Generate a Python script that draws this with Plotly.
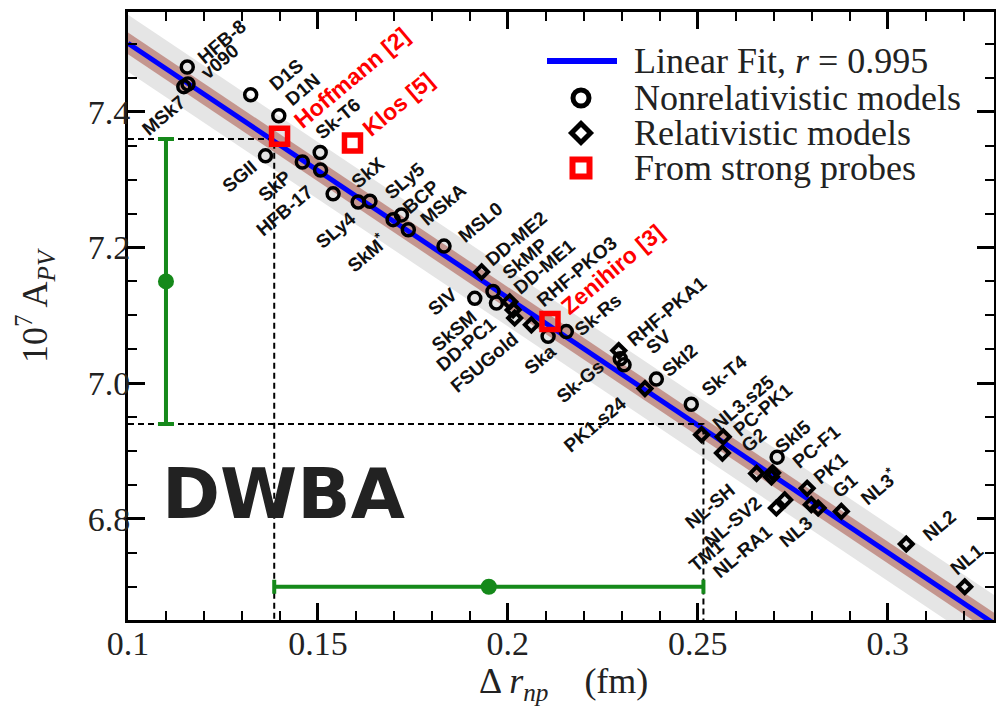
import plotly.graph_objects as go

# ---------------- data ----------------
nonrel_names = ["HFB-8", "v090", "MSk7", "D1S", "D1N", "SGII", "SkP", "Sk-T6", "HFB-17",
                "SkX", "SLy4", "SLy5", "SkM*", "BCP", "MSkA", "MSL0", "SIV", "SkMP",
                "SkSM", "Ska", "Sk-Rs", "Sk-Gs", "SV", "SkI2", "Sk-T4", "SkI5"]
nonrel_drnp = [0.1156, 0.1158, 0.1147, 0.1323, 0.1397, 0.1362, 0.1459, 0.1506, 0.1507,
               0.1540, 0.1606, 0.1637, 0.1698, 0.1720, 0.1738, 0.1832, 0.1913, 0.1961,
               0.1970, 0.2106, 0.2154, 0.2296, 0.2306, 0.2391, 0.2483, 0.2709]
nonrel_apv = [7.466, 7.441, 7.437, 7.425, 7.394, 7.335, 7.326, 7.340, 7.314,
              7.279, 7.267, 7.268, 7.241, 7.248, 7.226, 7.202, 7.125, 7.135,
              7.118, 7.069, 7.076, 7.036, 7.027, 7.006, 6.969, 6.891]

rel_names = ["DD-ME2", "DD-ME1", "DD-PC1", "RHF-PKO3", "FSUGold", "RHF-PKA1", "PK1.s24",
             "NL3.s25", "PC-PK1", "G2", "NL-SH", "NL-SV2", "PC-F1", "TM1", "NL-RA1",
             "PK1", "NL3", "G1", "NL3*", "NL2", "NL1"]
rel_drnp = [0.1931, 0.2005, 0.2014, 0.2018, 0.2062, 0.2292, 0.2361,
            0.2510, 0.2567, 0.2565, 0.2655, 0.2694, 0.2697, 0.2707, 0.2729,
            0.2788, 0.2799, 0.2817, 0.2878, 0.3049, 0.3203]
rel_apv = [7.164, 7.120, 7.108, 7.096, 7.086, 7.048, 6.992,
           6.924, 6.921, 6.897, 6.867, 6.862, 6.868, 6.816, 6.828,
           6.845, 6.821, 6.816, 6.811, 6.763, 6.700]

probe_names = ["Hoffmann [2]", "Klos [5]", "Zenihiro [3]"]
probe_drnp = [0.1399, 0.1591, 0.2111]
probe_apv = [7.364, 7.354, 7.091]

fit_intercept = 7.876
fit_slope = -3.751
fit_r = 0.995
gray_band = 0.042
brown_band = 0.016

apv_meas = 7.15
apv_err = 0.21
apv_meas_x = 0.110
rnp_meas = 0.195
rnp_err = 0.0565
rnp_meas_y = 6.70

x_ticks = [0.1, 0.15, 0.2, 0.25, 0.3]
y_ticks = [6.8, 7.0, 7.2, 7.4]
x_range = [0.1, 0.328]
y_range = [6.651, 7.547]

# ---------------- styling / layout (not data) ----------------
W, H = 996, 711
L, R, T, B = 128, 994, 12, 620

def pxx(px):
    return (px - L) / (R - L)

def pxy(py):
    return (B - py) / (B - T)

# label offsets in pixels (right, up) from each point
label_offsets = {
    "HFB-8": (35, 25), "v090": (32, 22), "MSk7": (-20, -29), "D1S": (36, 20),
    "D1N": (24, 26), "Hoffmann [2]": (72, 58), "Klos [5]": (46, 39), "Sk-T6": (18, 34),
    "SGII": (-26, -21), "SkP": (-27, -24), "HFB-17": (-36, -40), "SkX": (35, 21),
    "SLy5": (35, 21), "BCP": (20, 18), "MSkA": (35, 25), "SLy4": (-23, -28),
    "SkM*": (-27, -33), "MSL0": (36, 24), "DD-ME2": (35, 33), "SkMP": (32, 33),
    "DD-ME1": (35, 35), "RHF-PKO3": (62, 47), "Zenihiro [3]": (63, 52), "Sk-Rs": (32, 17),
    "RHF-PKA1": (48, 39), "SV": (35, 23), "SkI2": (23, 19), "SIV": (-32, -3),
    "SkSM": (-42, -27), "DD-PC1": (-47, -35), "FSUGold": (-47, -38), "Ska": (-8, -23),
    "Sk-Gs": (-40, -23), "PK1.s24": (-50, -36), "Sk-T4": (33, 29), "NL3.s25": (42, 32),
    "PC-PK1": (40, 27), "G2": (31, 13), "SkI5": (16, 21), "PC-F1": (44, 26),
    "PK1": (23, 20), "G1": (27, 23), "NL3*": (38, 25), "NL3": (-15, -27),
    "NL2": (33, 19), "NL1": (2, 27), "NL-SH": (-47, -33), "NL-SV2": (-38, -45),
    "TM1": (-70, -47), "NL-RA1": (-42, -52),
}

SERIF = "Liberation Serif, Times New Roman, serif"
SANS = "Liberation Sans, Arial, sans-serif"
GREEN = "#15891a"

fig = go.Figure()

xe = list(x_range)
fit_y = [fit_intercept + fit_slope * v for v in xe]

# gray band
fig.add_trace(go.Scatter(
    x=xe + xe[::-1],
    y=[v + gray_band for v in fit_y] + [v - gray_band for v in fit_y[::-1]],
    fill="toself", fillcolor="#e5e5e5", line=dict(width=0), mode="lines",
    hoverinfo="skip", showlegend=False))
# brown band
fig.add_trace(go.Scatter(
    x=xe + xe[::-1],
    y=[v + brown_band for v in fit_y] + [v - brown_band for v in fit_y[::-1]],
    fill="toself", fillcolor="#c4968f", line=dict(width=0), mode="lines",
    hoverinfo="skip", showlegend=False))
# fit line
fig.add_trace(go.Scatter(x=xe, y=fit_y, mode="lines",
                         line=dict(color="#0000ff", width=5), showlegend=False))

# dashed guide lines
top_a = apv_meas + apv_err
bot_a = apv_meas - apv_err
lo_r = rnp_meas - rnp_err
hi_r = rnp_meas + rnp_err
dash = dict(color="black", width=2, dash="6px,4px")
fig.add_trace(go.Scatter(x=[x_range[0], lo_r, lo_r], y=[top_a, top_a, y_range[0]],
                         mode="lines", line=dash, showlegend=False))
fig.add_trace(go.Scatter(x=[x_range[0], hi_r, hi_r], y=[bot_a, bot_a, y_range[0]],
                         mode="lines", line=dash, showlegend=False))

# green measurement bars
fig.add_trace(go.Scatter(
    x=[apv_meas_x], y=[apv_meas], mode="markers",
    marker=dict(color=GREEN, size=16),
    error_y=dict(type="constant", value=apv_err, color=GREEN, thickness=4, width=8),
    showlegend=False))
fig.add_trace(go.Scatter(
    x=[rnp_meas], y=[rnp_meas_y], mode="markers",
    marker=dict(color=GREEN, size=16),
    error_x=dict(type="constant", value=rnp_err, color=GREEN, thickness=4, width=7),
    showlegend=False))

# model points
fig.add_trace(go.Scatter(
    x=nonrel_drnp, y=nonrel_apv, mode="markers", name="Nonrelativistic models",
    marker=dict(symbol="circle-open", size=12, color="black", line=dict(width=3.5)),
    showlegend=False))
fig.add_trace(go.Scatter(
    x=rel_drnp, y=rel_apv, mode="markers", name="Relativistic models",
    marker=dict(symbol="diamond-open", size=10, color="black", line=dict(width=4)),
    showlegend=False))
fig.add_trace(go.Scatter(
    x=probe_drnp, y=probe_apv, mode="markers", name="From strong probes",
    marker=dict(symbol="square-open", size=16, color="#ff0000", line=dict(width=5.5)),
    showlegend=False))

annotations = []

def disp(name):
    return name.replace("*", "<sup>*</sup>")

for names, xs, ys, color, size in [
        (nonrel_names, nonrel_drnp, nonrel_apv, "#111111", 19),
        (rel_names, rel_drnp, rel_apv, "#111111", 19),
        (probe_names, probe_drnp, probe_apv, "#ff0000", 23)]:
    for n, xv, yv in zip(names, xs, ys):
        dx, dy = label_offsets[n]
        annotations.append(dict(
            x=xv, y=yv, xref="x", yref="y", text=disp(n), showarrow=False,
            xshift=dx, yshift=dy, textangle=-40, xanchor="center", yanchor="middle",
            font=dict(family=SANS, size=size, color=color, weight="bold")))

# DWBA label
annotations.append(dict(
    x=pxx(283), y=pxy(494), xref="paper", yref="paper", text="DWBA", showarrow=False,
    xanchor="center", yanchor="middle",
    font=dict(family="DejaVu Sans, sans-serif", size=70, color="#222222", weight="bold")))

# axis titles
annotations.append(dict(
    x=pxx(35), y=pxy(306), xref="paper", yref="paper",
    text="10<sup>7</sup> A<sub><i>PV</i></sub>", showarrow=False, textangle=-90,
    xanchor="center", yanchor="middle",
    font=dict(family=SERIF, size=36, color="#222222")))
annotations.append(dict(
    x=pxx(563), y=pxy(683), xref="paper", yref="paper",
    text="\u0394 <i>r</i><sub><i>np</i></sub>\u00a0\u00a0\u00a0\u00a0(fm)", showarrow=False,
    xanchor="center", yanchor="middle",
    font=dict(family=SERIF, size=36, color="#222222")))

# custom legend
legend_rows = [
    ("Linear Fit, <i>r</i>\u00a0=\u00a0" + f"{fit_r:.3f}", 61),
    ("Nonrelativistic models", 98),
    ("Relativistic models", 133),
    ("From strong probes", 168),
]
for txt, py in legend_rows:
    annotations.append(dict(
        x=pxx(632), y=pxy(py), xref="paper", yref="paper", text=txt, showarrow=False,
        xanchor="left", yanchor="middle",
        font=dict(family=SERIF, size=36, color="#222222")))

shapes = [
    dict(type="line", xref="paper", yref="paper", x0=pxx(547), x1=pxx(617),
         y0=pxy(61), y1=pxy(61), line=dict(color="#0000ff", width=6)),
    dict(type="circle", xref="paper", yref="paper", xsizemode="pixel", ysizemode="pixel",
         xanchor=pxx(581), yanchor=pxy(98), x0=-8, x1=8, y0=-8, y1=8,
         line=dict(color="black", width=5)),
    dict(type="path", xref="paper", yref="paper", xsizemode="pixel", ysizemode="pixel",
         xanchor=pxx(581), yanchor=pxy(133), path="M -9.5 0 L 0 9.5 L 9.5 0 L 0 -9.5 Z",
         line=dict(color="black", width=5)),
    dict(type="rect", xref="paper", yref="paper", xsizemode="pixel", ysizemode="pixel",
         xanchor=pxx(581), yanchor=pxy(168), x0=-8.5, x1=8.5, y0=-8.5, y1=8.5,
         line=dict(color="#ff0000", width=6)),
]

axis_common = dict(
    showgrid=False, zeroline=False, showline=True, linecolor="black", linewidth=3,
    mirror="allticks", ticks="inside", tickcolor="black", tickwidth=2.5, ticklen=17,
    tickfont=dict(family=SERIF, size=34, color="#222222"),
)

fig.update_layout(
    width=W, height=H,
    margin=dict(l=L, r=W - R, t=T, b=H - B, autoexpand=False),
    paper_bgcolor="white", plot_bgcolor="white",
    showlegend=False,
    xaxis=dict(range=x_range, tickvals=x_ticks, ticktext=[f"{v:g}" for v in x_ticks],
               minor=dict(dtick=0.01, tick0=0.1, ticks="inside", ticklen=9,
                          tickwidth=2, tickcolor="black"),
               ticklabelstandoff=-9,
               **axis_common),
    yaxis=dict(range=y_range, tickvals=y_ticks, ticktext=[f"{v:.1f}" for v in y_ticks],
               minor=dict(dtick=0.05, tick0=6.8, ticks="inside", ticklen=9,
                          tickwidth=2, tickcolor="black"),
               ticklabelstandoff=-12,
               **axis_common),
    annotations=annotations,
    shapes=shapes,
)

fig.write_html("out.html",
               config={"displayModeBar": False},
               post_script="document.body.style.margin='0';document.body.style.overflow='hidden';")
